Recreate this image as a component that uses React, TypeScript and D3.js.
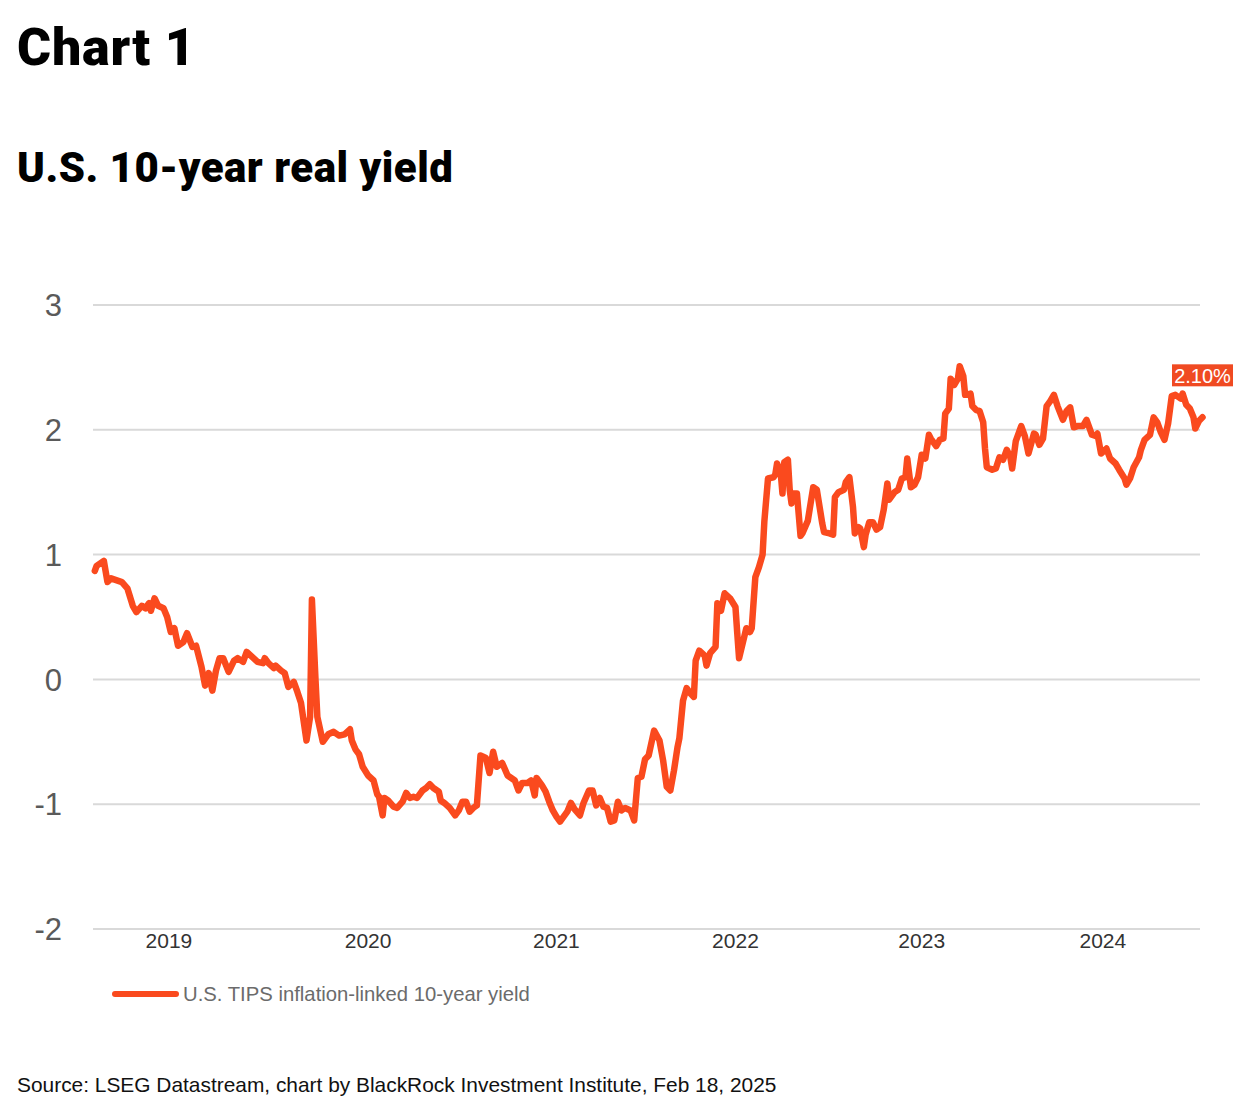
import React from 'react';
import * as d3 from 'd3';

// Weekly-ish readings: decimal year -> U.S. TIPS 10-year real yield (%)
const yearFrac = [
  2019.01, 2019.02, 2019.06, 2019.08, 2019.10, 2019.16, 2019.19, 2019.22, 2019.24, 2019.27,
  2019.29, 2019.31, 2019.32, 2019.34, 2019.36, 2019.39, 2019.41, 2019.43, 2019.45, 2019.47,
  2019.50, 2019.52, 2019.55, 2019.57, 2019.60, 2019.62, 2019.64, 2019.66, 2019.68, 2019.70,
  2019.72, 2019.75, 2019.78, 2019.80, 2019.83, 2019.85, 2019.88, 2019.91, 2019.94, 2019.95,
  2019.97, 2020.00, 2020.01, 2020.04, 2020.06, 2020.08, 2020.11, 2020.13, 2020.15, 2020.18,
  2020.20, 2020.21, 2020.23, 2020.24, 2020.27, 2020.30, 2020.33, 2020.36, 2020.39, 2020.42,
  2020.43, 2020.45, 2020.47, 2020.49, 2020.52, 2020.55, 2020.57, 2020.58, 2020.60, 2020.61,
  2020.63, 2020.66, 2020.68, 2020.71, 2020.73, 2020.75, 2020.77, 2020.79, 2020.82, 2020.84,
  2020.86, 2020.88, 2020.91, 2020.92, 2020.94, 2020.97, 2021.00, 2021.02, 2021.04, 2021.06,
  2021.08, 2021.10, 2021.12, 2021.14, 2021.17, 2021.19, 2021.21, 2021.23, 2021.26, 2021.29,
  2021.31, 2021.33, 2021.35, 2021.37, 2021.40, 2021.42, 2021.44, 2021.45, 2021.48, 2021.50,
  2021.52, 2021.54, 2021.56, 2021.58, 2021.60, 2021.62, 2021.64, 2021.66, 2021.69, 2021.71,
  2021.74, 2021.76, 2021.78, 2021.80, 2021.82, 2021.84, 2021.86, 2021.88, 2021.90, 2021.92,
  2021.94, 2021.97, 2021.99, 2022.01, 2022.03, 2022.05, 2022.07, 2022.10, 2022.13, 2022.15,
  2022.17, 2022.19, 2022.21, 2022.23, 2022.24, 2022.26, 2022.28, 2022.30, 2022.32, 2022.33,
  2022.35, 2022.38, 2022.39, 2022.41, 2022.44, 2022.45, 2022.47, 2022.49, 2022.52, 2022.55,
  2022.56, 2022.57, 2022.59, 2022.61, 2022.63, 2022.64, 2022.66, 2022.68, 2022.70, 2022.71,
  2022.73, 2022.76, 2022.77, 2022.78, 2022.80, 2022.81, 2022.82, 2022.84, 2022.85, 2022.86,
  2022.87, 2022.89, 2022.91, 2022.92, 2022.95, 2022.98, 2023.00, 2023.03, 2023.04, 2023.07,
  2023.09, 2023.10, 2023.12, 2023.15, 2023.16, 2023.18, 2023.20, 2023.21, 2023.23, 2023.24,
  2023.26, 2023.27, 2023.29, 2023.31, 2023.33, 2023.35, 2023.37, 2023.39, 2023.40, 2023.43,
  2023.45, 2023.47, 2023.49, 2023.50, 2023.52, 2023.54, 2023.56, 2023.58, 2023.60, 2023.62,
  2023.63, 2023.66, 2023.68, 2023.70, 2023.71, 2023.73, 2023.74, 2023.76, 2023.78, 2023.79,
  2023.81, 2023.82, 2023.85, 2023.86, 2023.88, 2023.90, 2023.92, 2023.93, 2023.94, 2023.97,
  2023.99, 2024.01, 2024.03, 2024.05, 2024.07, 2024.08, 2024.10, 2024.13, 2024.15, 2024.17,
  2024.20, 2024.21, 2024.23, 2024.25, 2024.27, 2024.29, 2024.31, 2024.33, 2024.36, 2024.38,
  2024.40, 2024.42, 2024.44, 2024.47, 2024.49, 2024.52, 2024.54, 2024.55, 2024.57, 2024.60,
  2024.62, 2024.65, 2024.67, 2024.70, 2024.71, 2024.73, 2024.75, 2024.78, 2024.79, 2024.81,
  2024.84, 2024.86, 2024.88, 2024.90, 2024.92, 2024.94, 2024.96, 2024.98, 2025.01, 2025.02,
  2025.04, 2025.06, 2025.08, 2025.09, 2025.11, 2025.13,
];

const realYield = [
  0.87, 0.91, 0.95, 0.78, 0.81, 0.78, 0.73, 0.59, 0.54, 0.59,
  0.57, 0.61, 0.55, 0.65, 0.59, 0.57, 0.50, 0.38, 0.41, 0.27,
  0.30, 0.37, 0.26, 0.27, 0.10, -0.05, 0.05, -0.09, 0.07, 0.17,
  0.17, 0.06, 0.15, 0.17, 0.14, 0.22, 0.18, 0.14, 0.13, 0.17,
  0.13, 0.09, 0.11, 0.07, 0.05, -0.06, -0.02, -0.10, -0.19, -0.49,
  -0.30, 0.64, -0.01, -0.30, -0.50, -0.44, -0.42, -0.45, -0.44, -0.40,
  -0.49, -0.56, -0.60, -0.70, -0.77, -0.81, -0.92, -0.94, -1.09, -0.95,
  -0.97, -1.02, -1.03, -0.98, -0.91, -0.95, -0.94, -0.95, -0.89, -0.87,
  -0.84, -0.87, -0.90, -0.97, -0.99, -1.03, -1.09, -1.05, -0.98, -0.98,
  -1.06, -1.03, -1.01, -0.61, -0.63, -0.75, -0.58, -0.70, -0.67, -0.77,
  -0.79, -0.81, -0.89, -0.83, -0.83, -0.81, -0.93, -0.79, -0.85, -0.90,
  -0.98, -1.05, -1.10, -1.14, -1.10, -1.06, -0.99, -1.04, -1.09, -0.99,
  -0.89, -0.89, -1.01, -0.95, -1.02, -1.03, -1.14, -1.13, -0.98, -1.05,
  -1.03, -1.05, -1.13, -0.79, -0.78, -0.64, -0.61, -0.41, -0.49, -0.65,
  -0.86, -0.89, -0.73, -0.54, -0.47, -0.17, -0.07, -0.11, -0.14, 0.15,
  0.23, 0.19, 0.11, 0.21, 0.26, 0.61, 0.55, 0.69, 0.65, 0.58,
  0.37, 0.17, 0.29, 0.41, 0.38, 0.41, 0.82, 0.90, 1.00, 1.27,
  1.61, 1.62, 1.64, 1.73, 1.66, 1.49, 1.74, 1.76, 1.52, 1.41,
  1.49, 1.49, 1.15, 1.17, 1.27, 1.54, 1.52, 1.25, 1.18, 1.17,
  1.16, 1.46, 1.50, 1.52, 1.58, 1.62, 1.38, 1.17, 1.22, 1.21,
  1.06, 1.16, 1.26, 1.26, 1.20, 1.22, 1.36, 1.57, 1.44, 1.50,
  1.52, 1.61, 1.62, 1.77, 1.54, 1.56, 1.62, 1.80, 1.77, 1.96,
  1.93, 1.87, 1.92, 1.93, 2.13, 2.17, 2.41, 2.36, 2.41, 2.51,
  2.43, 2.28, 2.29, 2.19, 2.16, 2.15, 2.06, 1.85, 1.70, 1.68,
  1.69, 1.78, 1.76, 1.84, 1.78, 1.69, 1.91, 2.03, 1.95, 1.81,
  1.97, 1.96, 1.88, 1.93, 2.19, 2.23, 2.28, 2.19, 2.08, 2.15,
  2.18, 2.02, 2.03, 2.03, 2.08, 1.96, 1.95, 1.97, 1.81, 1.85,
  1.77, 1.73, 1.68, 1.61, 1.56, 1.61, 1.70, 1.78, 1.84, 1.92,
  1.96, 2.10, 2.06, 1.98, 1.92, 2.05, 2.27, 2.28, 2.25, 2.29,
  2.20, 2.17, 2.10, 2.01, 2.07, 2.10,
];

const yTicks = [3, 2, 1, 0, -1, -2];
const yearLabels = ['2019', '2020', '2021', '2022', '2023', '2024'];
const yearLabelAt = [2019.42, 2020.52, 2021.56, 2022.55, 2023.58, 2024.58];
const lastLabel = '2.10%';

const toDate = (t: number) => {
  const yr = Math.floor(t);
  const start = Date.UTC(yr, 0, 1);
  const end = Date.UTC(yr + 1, 0, 1);
  return new Date(start + (t - yr) * (end - start));
};

const ORANGE = '#fa4a1e';
const FONT = '"Liberation Sans", Arial, sans-serif';
const HEAVY = 'Roboto, "Noto Sans", sans-serif';

export default function App() {
  const width = 1254;
  const height = 1120;
  const plotLeft = 93;
  const plotRight = 1200;

  const points = yearFrac.map((t, i) => ({ date: toDate(t), value: realYield[i] }));

  const x = d3
    .scaleTime()
    .domain([toDate(2019), toDate(2025.13)])
    .range([plotLeft, 1202.5]);

  const y = d3.scaleLinear().domain([-2, 3]).range([929, 305]);

  const line = d3
    .line<typeof points[0]>()
    .x(d => x(d.date))
    .y(d => y(d.value));

  const last = points[points.length - 1];
  const lx = x(last.date);
  const ly = y(last.value) - 42;

  return (
    <svg
      width={width}
      height={height}
      style={{ position: 'absolute', left: 0, top: 0, display: 'block', background: '#fff' }}
    >
      <text x={17} y={65} fontFamily={HEAVY} fontWeight={900} fontSize={52} letterSpacing={0.8} fill="#000">
        Chart 1
      </text>
      <text x={17} y={182} fontFamily={HEAVY} fontWeight={900} fontSize={42} letterSpacing={0.5} fill="#000">
        U.S. 10-year real yield
      </text>

      {/* Grid */}
      {yTicks.map(t => (
        <g key={t}>
          <line x1={plotLeft} x2={plotRight} y1={y(t)} y2={y(t)} stroke="#d9d9d9" strokeWidth={2} />
          <text
            x={62}
            y={y(t)}
            dy="0.36em"
            textAnchor="end"
            fontFamily={FONT}
            fontSize={31}
            fill="#5a5a5a"
          >
            {t}
          </text>
        </g>
      ))}

      {/* Year labels */}
      {yearLabels.map((lab, i) => (
        <text
          key={lab}
          x={x(toDate(yearLabelAt[i]))}
          y={948}
          textAnchor="middle"
          fontFamily={FONT}
          fontSize={21}
          fill="#333"
        >
          {lab}
        </text>
      ))}

      {/* Series */}
      <path
        d={line(points) || ''}
        fill="none"
        stroke={ORANGE}
        strokeWidth={6.5}
        strokeLinejoin="round"
        strokeLinecap="round"
      />

      {/* End label */}
      <rect x={lx - 30.5} y={ly - 11} width={61} height={22} fill="#f04a22" />
      <text
        x={lx}
        y={ly}
        dy="0.36em"
        textAnchor="middle"
        fontFamily={FONT}
        fontSize={20}
        fill="#fff"
      >
        {lastLabel}
      </text>

      {/* Legend */}
      <line x1={115} x2={176} y1={994} y2={994} stroke={ORANGE} strokeWidth={6} strokeLinecap="round" />
      <text x={183} y={1001} fontFamily={FONT} fontSize={20.3} fill="#6b6b6b">
        U.S. TIPS inflation-linked 10-year yield
      </text>

      <text x={17} y={1092} fontFamily={FONT} fontSize={20.9} fill="#111">
        Source: LSEG Datastream, chart by BlackRock Investment Institute, Feb 18, 2025
      </text>
    </svg>
  );
}
